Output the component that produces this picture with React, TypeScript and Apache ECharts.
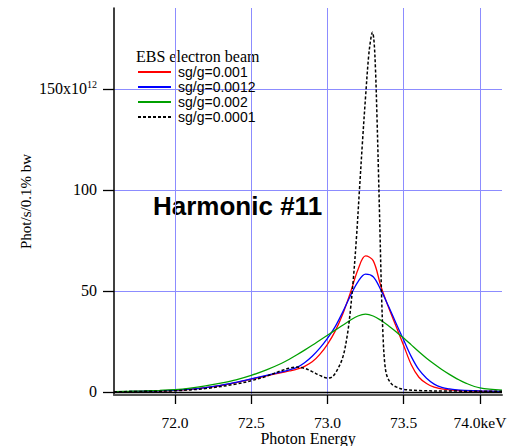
import React, { useEffect, useRef } from 'react';
import * as echarts from 'echarts';

const seriesNames = ['sg/g=0.001', 'sg/g=0.0012', 'sg/g=0.002', 'sg/g=0.0001'];
const legendTitle = 'EBS electron beam';
const annotation = 'Harmonic #11';
const xTicks = [72.0, 72.5, 73.0, 73.5, 74.0];
const yTicks = [0, 50, 100, 150];

const energy = [71.6, 71.7, 71.8, 71.9, 72.0, 72.1, 72.2, 72.3, 72.4, 72.5, 72.6, 72.7, 72.75, 72.8, 72.85, 72.9, 72.95, 73.0, 73.05, 73.1, 73.15, 73.2, 73.25, 73.3, 73.35, 73.4, 73.45, 73.5, 73.55, 73.6, 73.65, 73.7, 73.75, 73.8, 73.85, 73.9, 74.0, 74.145];
const fluxRed = [0.1, 0.2, 0.35, 0.55, 0.85, 1.35, 2.1, 3.2, 4.6, 6.3, 8.0, 9.6, 10.4, 11.3, 12.7, 14.9, 18.6, 23.6, 30, 38.5, 49, 60.5, 67.3, 65, 52.5, 42, 32.5, 23, 13.5, 7.3, 4.2, 2.4, 1.5, 1.0, 0.75, 0.55, 0.35, 0.2];
const fluxBlue = [0.12, 0.22, 0.38, 0.6, 0.9, 1.4, 2.2, 3.3, 4.8, 6.5, 8.2, 9.9, 10.9, 12.2, 14.5, 17.7, 21.7, 26.5, 32.2, 39.5, 47.5, 54.5, 58.3, 57, 50.5, 42.5, 34, 25.7, 17.5, 11, 6.8, 3.9, 2.3, 1.5, 1.05, 0.8, 0.5, 0.3];
const fluxGreen = [0.2, 0.35, 0.55, 0.8, 1.15, 1.9, 3.0, 4.4, 6.0, 8.2, 10.9, 14.2, 16.2, 18.4, 20.7, 23.1, 25.6, 28.1, 30.6, 33.0, 35.5, 37.6, 38.5, 37.6, 35.5, 32.8, 29.8, 26.7, 23.3, 19.9, 16.7, 13.8, 11.1, 8.7, 6.5, 4.6, 2.0, 0.9];

const energyNarrow = [71.6, 71.8, 72.0, 72.2, 72.4, 72.5, 72.6, 72.7, 72.75, 72.8, 72.85, 72.9, 72.95, 73.0, 73.03, 73.06, 73.1, 73.13, 73.15, 73.17, 73.19, 73.21, 73.23, 73.25, 73.27, 73.285, 73.295, 73.305, 73.315, 73.325, 73.335, 73.345, 73.355, 73.365, 73.375, 73.39, 73.42, 73.45, 73.5, 73.6, 73.8, 74.145];
const fluxNarrow = [0.1, 0.3, 0.6, 1.7, 3.9, 5.6, 7.8, 10.6, 11.8, 12.3, 11.7, 10.1, 8.2, 6.9, 7.4, 10.3, 17, 28, 40, 56, 76, 100, 124, 146, 166, 175, 178, 174, 160, 136, 108, 78, 48, 27, 15, 8, 4, 2.5, 1.3, 0.7, 0.45, 0.35];

const colors = ['#ff0000', '#0000ff', '#00a000', '#000000'];

function pairs(xs: number[], ys: number[]) {
  return xs.map((x, i) => [x, ys[i]]);
}

const serif = 'Liberation Serif';
const sans = 'Liberation Sans';

export default function App() {
  const ref = useRef<HTMLDivElement>(null);
  useEffect(() => {
    const chart = echarts.init(ref.current!, null, { renderer: 'svg' });
    const datasets = [
      pairs(energy, fluxRed),
      pairs(energy, fluxBlue),
      pairs(energy, fluxGreen),
      pairs(energyNarrow, fluxNarrow),
    ];
    chart.setOption({
      animation: false,
      backgroundColor: '#ffffff',
      grid: { left: 114, right: 12, top: 8, bottom: 51, containLabel: false, outerBoundsMode: 'none' },
      xAxis: {
        type: 'value',
        min: 71.6,
        max: 74.145,
        name: 'Photon Energy',
        nameLocation: 'middle',
        nameGap: 36,
        nameMoveOverlap: false,
        nameTextStyle: { fontFamily: serif, fontSize: 16, lineHeight: 14, color: '#000' },
        axisLine: { onZero: false, lineStyle: { color: '#555', width: 2 } },
        axisTick: { customValues: xTicks, length: 9, inside: false, lineStyle: { color: '#000', width: 1.3 } },
        axisLabel: {
          customValues: xTicks,
          margin: 21,
          fontFamily: serif,
          fontSize: 15.5,
          lineHeight: 13,
          color: '#000',
          formatter: (v: number) => (v === 74 ? '74.0keV' : v.toFixed(1)),
        },
        splitLine: { show: true, lineStyle: { color: '#8c8cff', width: 1 } },
      },
      yAxis: {
        type: 'value',
        min: -1.5,
        max: 190,
        name: 'Phot/s/0.1% bw',
        nameLocation: 'middle',
        nameRotate: 90,
        nameGap: 81,
        nameMoveOverlap: false,
        nameTextStyle: { fontFamily: serif, fontSize: 15, color: '#000' },
        axisLine: { show: true, lineStyle: { color: '#000', width: 1.5 } },
        axisTick: { customValues: yTicks, length: 11, inside: false, lineStyle: { color: '#000', width: 1.3 } },
        axisLabel: {
          customValues: yTicks,
          margin: 17,
          fontFamily: serif,
          fontSize: 16,
          color: '#000',
          formatter: (v: number) => (v === 150 ? '150x10{sup|12}' : String(v)),
          rich: {
            sup: { fontFamily: serif, fontSize: 10, color: '#000', padding: [0, 0, 9, 0] },
          },
        },
        splitLine: { show: true, lineStyle: { color: '#8c8cff', width: 1 } },
      },
      legend: {
        orient: 'vertical',
        left: 137,
        top: 65,
        padding: 0,
        itemWidth: 33,
        itemHeight: 14,
        itemGap: 1,
        selectedMode: false,
        data: seriesNames,
        itemStyle: { opacity: 0 },
        textStyle: { fontFamily: sans, fontSize: 14, color: '#000', padding: [0, 0, 0, 2] },
      },
      graphic: [
        {
          type: 'text',
          left: 136,
          top: 48,
          style: { text: legendTitle, font: `16px "${serif}"`, fill: '#000' },
        },
        {
          type: 'text',
          left: 153,
          top: 193,
          style: { text: annotation, font: `bold 26px "${sans}"`, fill: '#000' },
        },
      ],
      series: datasets.map((d, i) => ({
        name: seriesNames[i],
        type: 'line',
        data: d,
        symbol: 'none',
        smooth: 0.35,
        color: colors[i],
        lineStyle: { color: colors[i], width: i === 3 ? 1.5 : 1.3, type: i === 3 ? [3, 2] : 'solid' },
        z: 3,
        markLine:
          i === 0
            ? {
                silent: true,
                symbol: 'none',
                label: { show: false },
                lineStyle: { color: '#000', width: 1.3, type: 'solid' },
                data: [{ yAxis: 0 }],
              }
            : undefined,
      })),
    });
    return () => chart.dispose();
  }, []);
  return <div ref={ref} style={{ position: 'absolute', left: 0, top: 0, width: 514, height: 446 }} />;
}
